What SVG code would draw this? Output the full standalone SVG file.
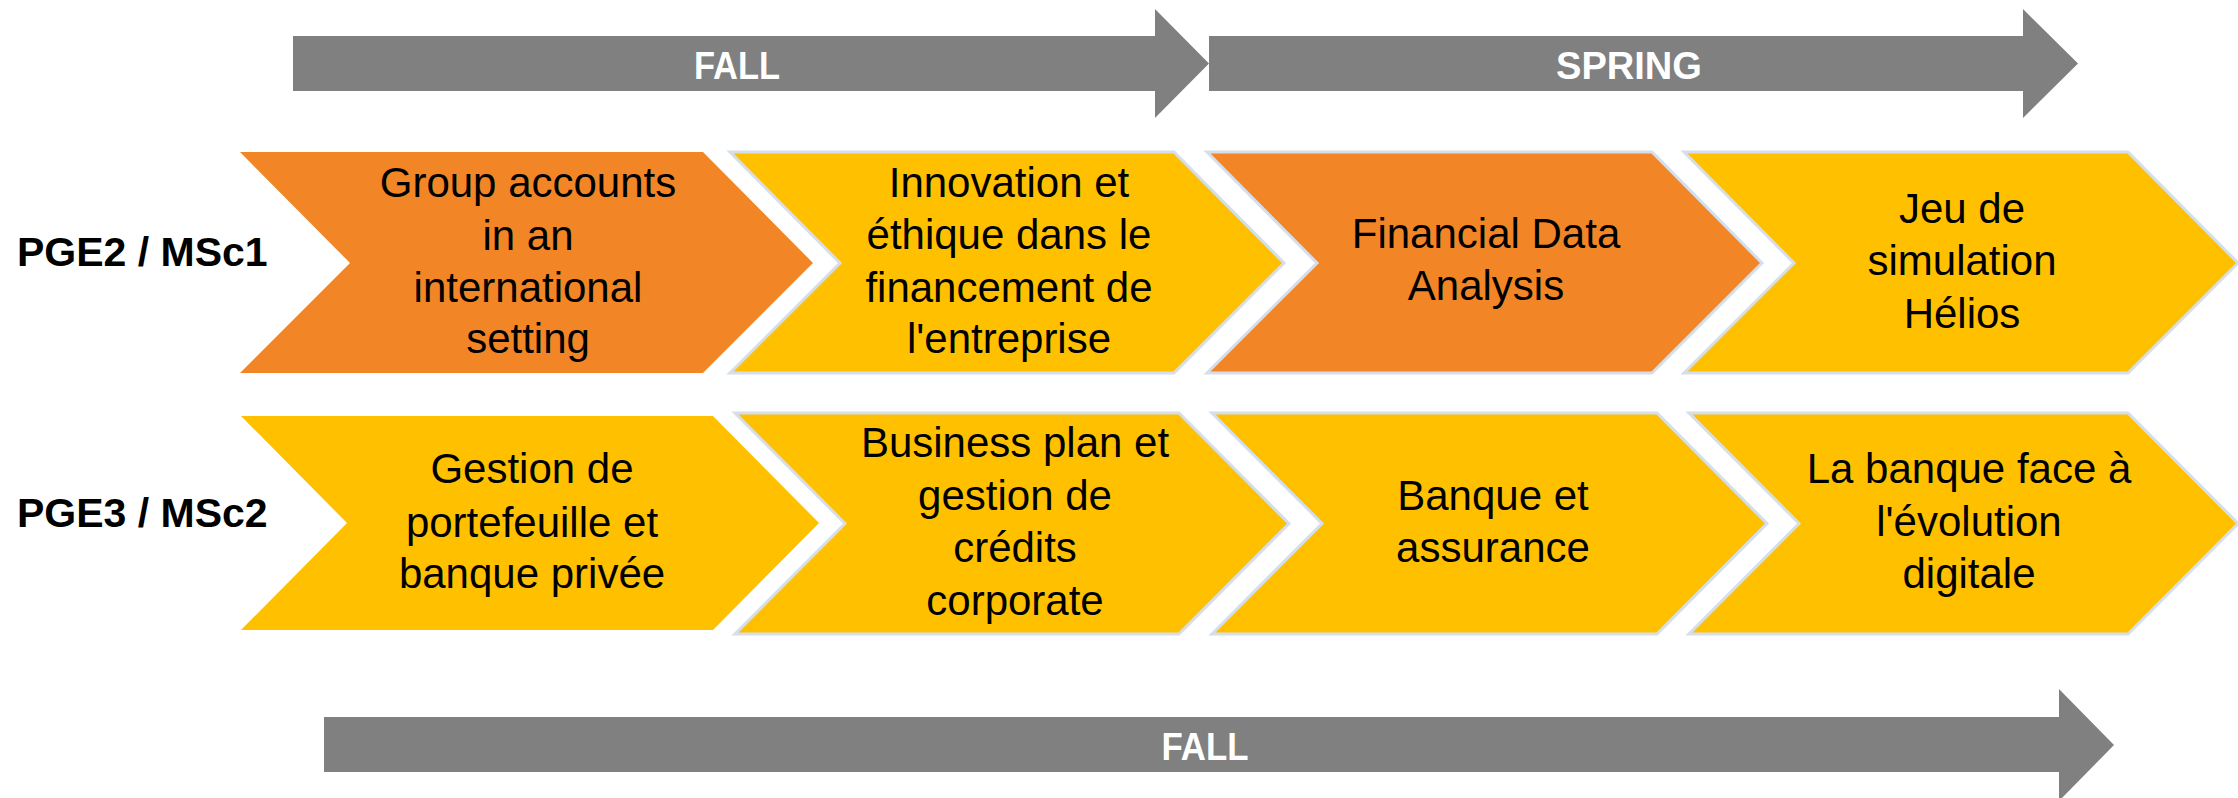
<svg xmlns="http://www.w3.org/2000/svg" width="2238" height="798" viewBox="0 0 2238 798">
  <style>
    .arrow { fill: #808080; }
    .hdr { font-family: "Liberation Sans", Arial, sans-serif; font-weight: bold; font-size: 38px; fill: #ffffff; text-anchor: middle; }
    .lbl { font-family: "Liberation Sans", Arial, sans-serif; font-weight: bold; font-size: 41px; fill: #000000; }
    .txt { font-family: "Liberation Sans", Arial, sans-serif; font-size: 42px; fill: #000000; text-anchor: middle; }
    .orange { fill: #F28526; }
    .yellow { fill: #FFC000; }
    .edged { stroke: #D5DEEA; stroke-width: 3; stroke-linejoin: miter; }
  </style>
  <rect width="2238" height="798" fill="#ffffff"/>

  <g id="connectors">
    <g id="arrow-fall-top">
      <polygon class="arrow" points="293,36 1155,36 1155,9 1209,63.5 1155,118 1155,91 293,91"/>
      <text class="hdr" x="737" y="79" textLength="86" lengthAdjust="spacingAndGlyphs">FALL</text>
    </g>
    <g id="arrow-spring">
      <polygon class="arrow" points="1209,36 2023,36 2023,9 2078,63.5 2023,118 2023,91 1209,91"/>
      <text class="hdr" x="1629" y="79" textLength="146" lengthAdjust="spacingAndGlyphs">SPRING</text>
    </g>
    <g id="arrow-fall-bottom">
      <polygon class="arrow" points="324,717 2059,717 2059,689 2114,745 2059,801 2059,772 324,772"/>
      <text class="hdr" x="1205" y="760" textLength="87" lengthAdjust="spacingAndGlyphs">FALL</text>
    </g>
  </g>

  <g id="label-pge2"><text class="lbl" x="17" y="266">PGE2 / MSc1</text></g>
  <g id="label-pge3"><text class="lbl" x="17" y="527">PGE3 / MSc2</text></g>

  <!-- Row 1 -->
  <g id="r1c1">
    <polygon class="orange" points="240,152 703,152 813,263 703,373 240,373 350,263"/>
    <text class="txt" x="528" y="197">Group accounts</text>
    <text class="txt" x="528" y="250">in an</text>
    <text class="txt" x="528" y="302">international</text>
    <text class="txt" x="528" y="353">setting</text>
  </g>
  <g id="r1c2">
    <polygon class="yellow edged" points="730,152 1174,152 1284,263 1174,373 730,373 840,263"/>
    <text class="txt" x="1009" y="197">Innovation et</text>
    <text class="txt" x="1009" y="249">éthique dans le</text>
    <text class="txt" x="1009" y="302">financement de</text>
    <text class="txt" x="1009" y="353">l'entreprise</text>
  </g>
  <g id="r1c3">
    <polygon class="orange edged" points="1207,152 1652,152 1762,263 1652,373 1207,373 1317,263"/>
    <text class="txt" x="1486" y="248">Financial Data</text>
    <text class="txt" x="1486" y="300">Analysis</text>
  </g>
  <g id="r1c4">
    <polygon class="yellow edged" points="1684,152 2128,152 2238,263 2128,373 1684,373 1794,263"/>
    <text class="txt" x="1962" y="223">Jeu de</text>
    <text class="txt" x="1962" y="275">simulation</text>
    <text class="txt" x="1962" y="328">Hélios</text>
  </g>

  <!-- Row 2 -->
  <g id="r2c1">
    <polygon class="yellow" points="241,416 713,416 819,523 713,630 241,630 347,523"/>
    <text class="txt" x="532" y="483">Gestion de</text>
    <text class="txt" x="532" y="537">portefeuille et</text>
    <text class="txt" x="532" y="588">banque privée</text>
  </g>
  <g id="r2c2">
    <polygon class="yellow edged" points="735,413 1179,413 1289,523.5 1179,634 735,634 845,523.5"/>
    <text class="txt" x="1015" y="457">Business plan et</text>
    <text class="txt" x="1015" y="510">gestion de</text>
    <text class="txt" x="1015" y="562">crédits</text>
    <text class="txt" x="1015" y="615">corporate</text>
  </g>
  <g id="r2c3">
    <polygon class="yellow edged" points="1212,413 1657,413 1767,523.5 1657,634 1212,634 1322,523.5"/>
    <text class="txt" x="1493" y="510">Banque et</text>
    <text class="txt" x="1493" y="562">assurance</text>
  </g>
  <g id="r2c4">
    <polygon class="yellow edged" points="1689,413 2128,413 2238,523.5 2128,634 1689,634 1799,523.5"/>
    <text class="txt" x="1969" y="483">La banque face à</text>
    <text class="txt" x="1969" y="536">l'évolution</text>
    <text class="txt" x="1969" y="588">digitale</text>
  </g>
</svg>
